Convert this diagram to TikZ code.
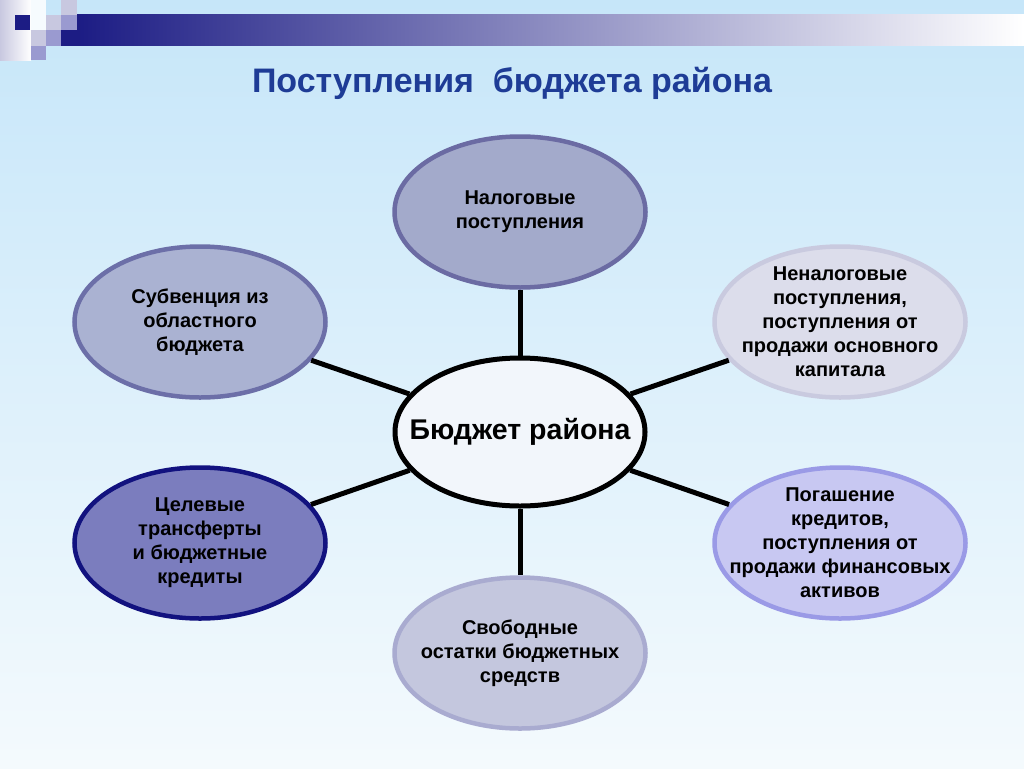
\documentclass[tikz,border=0pt]{standalone}
\usepackage{fontspec}
\setmainfont{Liberation Sans}
\usetikzlibrary{shapes.geometric}
\definecolor{titleblue}{RGB}{30,60,150}
\definecolor{skytop}{RGB}{198,230,249}
\definecolor{skybot}{RGB}{244,250,253}
\definecolor{barnavy}{RGB}{28,28,132}
\definecolor{barmid}{RGB}{176,176,198}
\definecolor{sqlight}{RGB}{200,200,224}
\definecolor{sqmid}{RGB}{154,154,208}
\definecolor{taxfill}{RGB}{163,170,203}
\definecolor{taxline}{RGB}{107,107,163}
\definecolor{subfill}{RGB}{170,178,210}
\definecolor{subline}{RGB}{108,111,168}
\definecolor{nontaxfill}{RGB}{220,221,235}
\definecolor{nontaxline}{RGB}{201,202,223}
\definecolor{trfill}{RGB}{123,125,190}
\definecolor{trline}{RGB}{18,18,127}
\definecolor{credfill}{RGB}{200,200,242}
\definecolor{credline}{RGB}{154,154,230}
\definecolor{restfill}{RGB}{196,199,222}
\definecolor{restline}{RGB}{169,171,208}
\definecolor{hubfill}{RGB}{242,246,251}
\begin{document}
\begin{tikzpicture}[x=1pt,y=-1pt,
    bubble/.style={ellipse,line width=4.5pt,minimum width=251pt,minimum height=151pt,
      inner sep=0pt,label={[align=center,font=\bfseries\fontsize{20}{24}\selectfont]center:#1}},
    hub/.style={ellipse,draw=black,fill=hubfill,line width=5pt,minimum width=250pt,
      minimum height=148pt,inner sep=0pt,
      label={[font=\bfseries\fontsize{28.5}{32}\selectfont]center:#1}},
    spoke/.style={line width=5pt,black}]
  \useasboundingbox (0,0) rectangle (1024,768);
  \shade[top color=skytop,bottom color=skybot] (0,0) rectangle (1024,768);
  % corner squares and bar
  \shade[left color=sqlight,right color=white] (0,0) rectangle (31,60);
  \fill[white!85!skytop] (31,0) rectangle (46,30);
  \shade[left color=barnavy,middle color=barmid,right color=white] (77,15) rectangle (1024,46);
  \fill[barnavy] (15,15) rectangle (30,30);
  \fill[barnavy] (61,30) rectangle (77,46);
  \fill[sqlight] (46,15) rectangle (61,30);
  \fill[sqmid] (61,15) rectangle (77,30);
  \fill[sqlight] (61,0) rectangle (77,15);
  \fill[sqlight] (31,30) rectangle (46,46);
  \fill[sqmid] (46,30) rectangle (61,46);
  \fill[sqmid] (31,46) rectangle (46,60);
  \node[text=titleblue,font=\bfseries\fontsize{34}{38}\selectfont] (title) at (512,83)
    {Поступления \ бюджета района};
  \node[hub={Бюджет района}] (budget) at (520,432) {};
  \node[bubble={Налоговые\\поступления},draw=taxline,fill=taxfill] (tax) at (520,212) {};
  \node[bubble={Субвенция из\\областного\\бюджета},draw=subline,fill=subfill] (subv) at (200,322) {};
  \node[bubble={Неналоговые\\поступления,\\поступления от\\продажи основного\\капитала},
    draw=nontaxline,fill=nontaxfill] (nontax) at (840,322) {};
  \node[bubble={Целевые\\трансферты\\и бюджетные\\кредиты},draw=trline,fill=trfill] (transf) at (200,543) {};
  \node[bubble={Погашение\\кредитов,\\поступления от\\продажи финансовых\\активов},
    draw=credline,fill=credfill] (credit) at (840,543) {};
  \node[bubble={Свободные\\остатки бюджетных\\средств},draw=restline,fill=restfill] (rest) at (520,653) {};
  \draw[spoke] (budget) -- (tax);
  \draw[spoke] (budget) -- (subv);
  \draw[spoke] (budget) -- (nontax);
  \draw[spoke] (budget) -- (transf);
  \draw[spoke] (budget) -- (credit);
  \draw[spoke] (budget) -- (rest);
\end{tikzpicture}
\end{document}
